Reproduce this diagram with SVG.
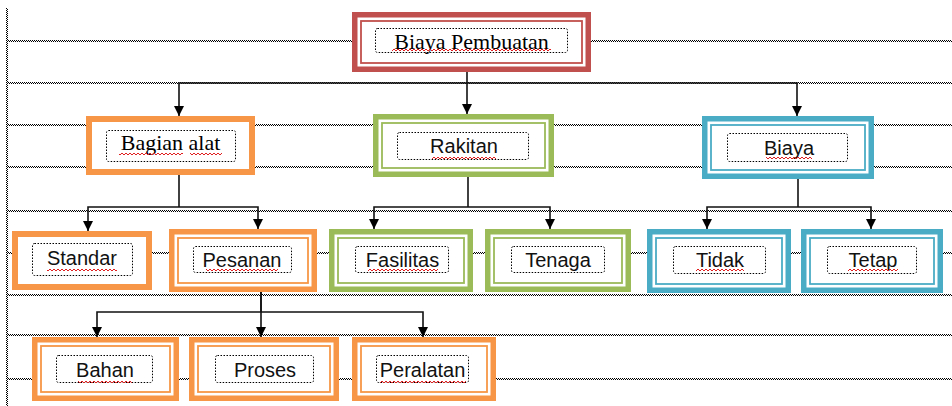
<svg xmlns="http://www.w3.org/2000/svg" width="952" height="406" viewBox="0 0 952 406">
  <style>
    .bg { fill: #ffffff; }
    .grid { fill: url(#checker); }
    .outer { fill: #ffffff; stroke-width: 5.5; }
    .single { fill: #ffffff; stroke-width: 6; }
    .inner { fill: none; stroke-width: 1.8; }
    .red { stroke: #c0504d; }
    .orange { stroke: #f79646; }
    .green { stroke: #9bbb59; }
    .blue { stroke: #4bacc6; }
    .tb { fill: none; stroke: #000; stroke-width: 1; stroke-dasharray: 1.5 1.5; }
    .serif { font-family: "Liberation Serif", "Times New Roman", serif; font-size: 22px; fill: #000; text-anchor: middle; }
    .sans { font-family: "Liberation Sans", Arial, sans-serif; font-size: 20px; fill: #111; text-anchor: middle; }
    .sq { fill: url(#wave); }
    .link { fill: none; stroke: #111; stroke-width: 1.6; }
    .arrow { fill: none; stroke: #111; stroke-width: 1.6; marker-end: url(#head); }
  </style>
  <defs>
    <pattern id="checker" width="2" height="2" patternUnits="userSpaceOnUse">
      <rect x="0" y="0" width="1" height="1" fill="#000"/>
      <rect x="1" y="1" width="1" height="1" fill="#000"/>
    </pattern>
    <pattern id="wave" width="4" height="4" patternUnits="userSpaceOnUse">
      <path d="M0,3 L2,1 L4,3" fill="none" stroke="#e02020" stroke-width="1"/>
    </pattern>
    <marker id="head" markerUnits="userSpaceOnUse" markerWidth="11" markerHeight="11" refX="10" refY="5" orient="auto">
      <path d="M0,0 L10,5 L0,10 z" fill="#000"/>
    </marker>
  </defs>

  <rect class="bg" x="0" y="0" width="952" height="406"/>

  <!-- dotted table gridlines -->
  <g id="gridlines">
    <rect class="grid" x="6" y="8" width="2" height="398"/>
    <rect class="grid" x="7" y="40" width="945" height="2"/>
    <rect class="grid" x="7" y="82" width="945" height="2"/>
    <rect class="grid" x="7" y="124" width="945" height="2"/>
    <rect class="grid" x="7" y="166" width="945" height="2"/>
    <rect class="grid" x="7" y="210" width="945" height="2"/>
    <rect class="grid" x="7" y="252" width="945" height="2"/>
    <rect class="grid" x="7" y="294" width="945" height="2"/>
    <rect class="grid" x="7" y="334" width="945" height="2"/>
    <rect class="grid" x="7" y="378" width="945" height="2"/>
  </g>

  <!-- top level -->
  <g id="biaya-pembuatan">
    <rect class="outer red" x="354.75" y="14.75" width="233.5" height="54.5"/>
    <rect class="inner red" x="361" y="21" width="221" height="42"/>
    <rect class="tb" x="375.5" y="28.5" width="192" height="24" rx="2"/>
    <text class="serif" x="471.5" y="49">Biaya Pembuatan</text>
    <rect class="sq" x="392" y="48" width="159" height="4"/>
  </g>

  <!-- second level -->
  <g id="bagian-alat">
    <rect class="single orange" x="89" y="119" width="163" height="53"/>
    <rect class="tb" x="106.5" y="130.5" width="129" height="31" rx="2"/>
    <text class="serif" x="170.5" y="150">Bagian alat</text>
    <rect class="sq" x="119" y="152" width="64" height="4"/>
    <rect class="sq" x="190" y="152" width="32" height="4"/>
  </g>

  <g id="rakitan">
    <rect class="outer green" x="375.75" y="116.75" width="175.5" height="57.5"/>
    <rect class="inner green" x="382" y="123" width="163" height="45"/>
    <rect class="tb" x="397.5" y="132.5" width="131" height="27" rx="2"/>
    <text class="sans" x="464" y="153">Rakitan</text>
    <rect class="sq" x="432" y="156" width="64" height="4"/>
  </g>

  <g id="biaya">
    <rect class="outer blue" x="704.75" y="118.75" width="166.5" height="57.5"/>
    <rect class="inner blue" x="711" y="125" width="154" height="45"/>
    <rect class="tb" x="727.5" y="133.5" width="120" height="28" rx="2"/>
    <text class="sans" x="789" y="155">Biaya</text>
    <rect class="sq" x="766" y="156" width="46" height="4"/>
  </g>

  <!-- third level -->
  <g id="standar">
    <rect class="single orange" x="15" y="234" width="134" height="53"/>
    <rect class="tb" x="32.5" y="243.5" width="100" height="32" rx="2"/>
    <text class="sans" x="82" y="265">Standar</text>
    <rect class="sq" x="47" y="268" width="70" height="4"/>
  </g>

  <g id="pesanan">
    <rect class="outer orange" x="171.75" y="231.75" width="142.5" height="57.5"/>
    <rect class="inner orange" x="178" y="238" width="130" height="45"/>
    <rect class="tb" x="193.5" y="246.5" width="98" height="26" rx="2"/>
    <text class="sans" x="242" y="267">Pesanan</text>
    <rect class="sq" x="206" y="268" width="72" height="4"/>
  </g>

  <g id="fasilitas">
    <rect class="outer green" x="331.75" y="231.75" width="138.5" height="57.5"/>
    <rect class="inner green" x="338" y="238" width="126" height="45"/>
    <rect class="tb" x="355.5" y="246.5" width="93" height="26" rx="2"/>
    <text class="sans" x="402.5" y="267">Fasilitas</text>
    <rect class="sq" x="368" y="268" width="70" height="4"/>
  </g>

  <g id="tenaga">
    <rect class="outer green" x="487.75" y="231.75" width="140.5" height="57.5"/>
    <rect class="inner green" x="494" y="238" width="128" height="45"/>
    <rect class="tb" x="511.5" y="246.5" width="93" height="26" rx="2"/>
    <text class="sans" x="558" y="267">Tenaga</text>
  </g>

  <g id="tidak">
    <rect class="outer blue" x="649.75" y="231.75" width="138.5" height="58.5"/>
    <rect class="inner blue" x="656" y="238" width="126" height="46"/>
    <rect class="tb" x="673.5" y="246.5" width="92" height="27" rx="2"/>
    <text class="sans" x="720" y="267">Tidak</text>
    <rect class="sq" x="696" y="268" width="48" height="4"/>
  </g>

  <g id="tetap">
    <rect class="outer blue" x="803.75" y="231.75" width="136.5" height="58.5"/>
    <rect class="inner blue" x="810" y="238" width="124" height="46"/>
    <rect class="tb" x="827.5" y="246.5" width="89" height="27" rx="2"/>
    <text class="sans" x="873" y="267">Tetap</text>
    <rect class="sq" x="848" y="268" width="50" height="4"/>
  </g>

  <!-- fourth level -->
  <g id="bahan">
    <rect class="outer orange" x="34.75" y="339.75" width="141.5" height="58.5"/>
    <rect class="inner orange" x="41" y="346" width="129" height="46"/>
    <rect class="tb" x="56.5" y="355.5" width="96" height="27" rx="2"/>
    <text class="sans" x="105" y="377">Bahan</text>
    <rect class="sq" x="78" y="380" width="54" height="4"/>
  </g>

  <g id="proses">
    <rect class="outer orange" x="191.75" y="339.75" width="144.5" height="58.5"/>
    <rect class="inner orange" x="198" y="346" width="132" height="46"/>
    <rect class="tb" x="215.5" y="355.5" width="98" height="27" rx="2"/>
    <text class="sans" x="265" y="377">Proses</text>
  </g>

  <g id="peralatan">
    <rect class="outer orange" x="354.75" y="339.75" width="138.5" height="58.5"/>
    <rect class="inner orange" x="361" y="346" width="126" height="46"/>
    <rect class="tb" x="376.5" y="355.5" width="92" height="27" rx="2"/>
    <text class="sans" x="422.5" y="377">Peralatan</text>
    <rect class="sq" x="380" y="380" width="86" height="4"/>
  </g>

  <!-- connectors -->
  <g id="connectors">
    <path class="link" d="M467,72 V83"/>
    <path class="arrow" d="M467,83 H179 V116"/>
    <path class="arrow" d="M467,83 V114"/>
    <path class="arrow" d="M467,83 H797 V116"/>

    <path class="link" d="M179,175 V207"/>
    <path class="arrow" d="M179,207 H88 V231"/>
    <path class="arrow" d="M179,207 H258 V229"/>

    <path class="link" d="M468,177 V207"/>
    <path class="arrow" d="M468,207 H374 V229"/>
    <path class="arrow" d="M468,207 H550 V229"/>

    <path class="link" d="M798,179 V207"/>
    <path class="arrow" d="M798,207 H707 V229"/>
    <path class="arrow" d="M798,207 H871 V229"/>

    <path class="link" d="M261,292 V312"/>
    <path class="arrow" d="M261,312 H97 V337"/>
    <path class="arrow" d="M261,292 V337"/>
    <path class="arrow" d="M261,312 H423 V337"/>
  </g>
</svg>
